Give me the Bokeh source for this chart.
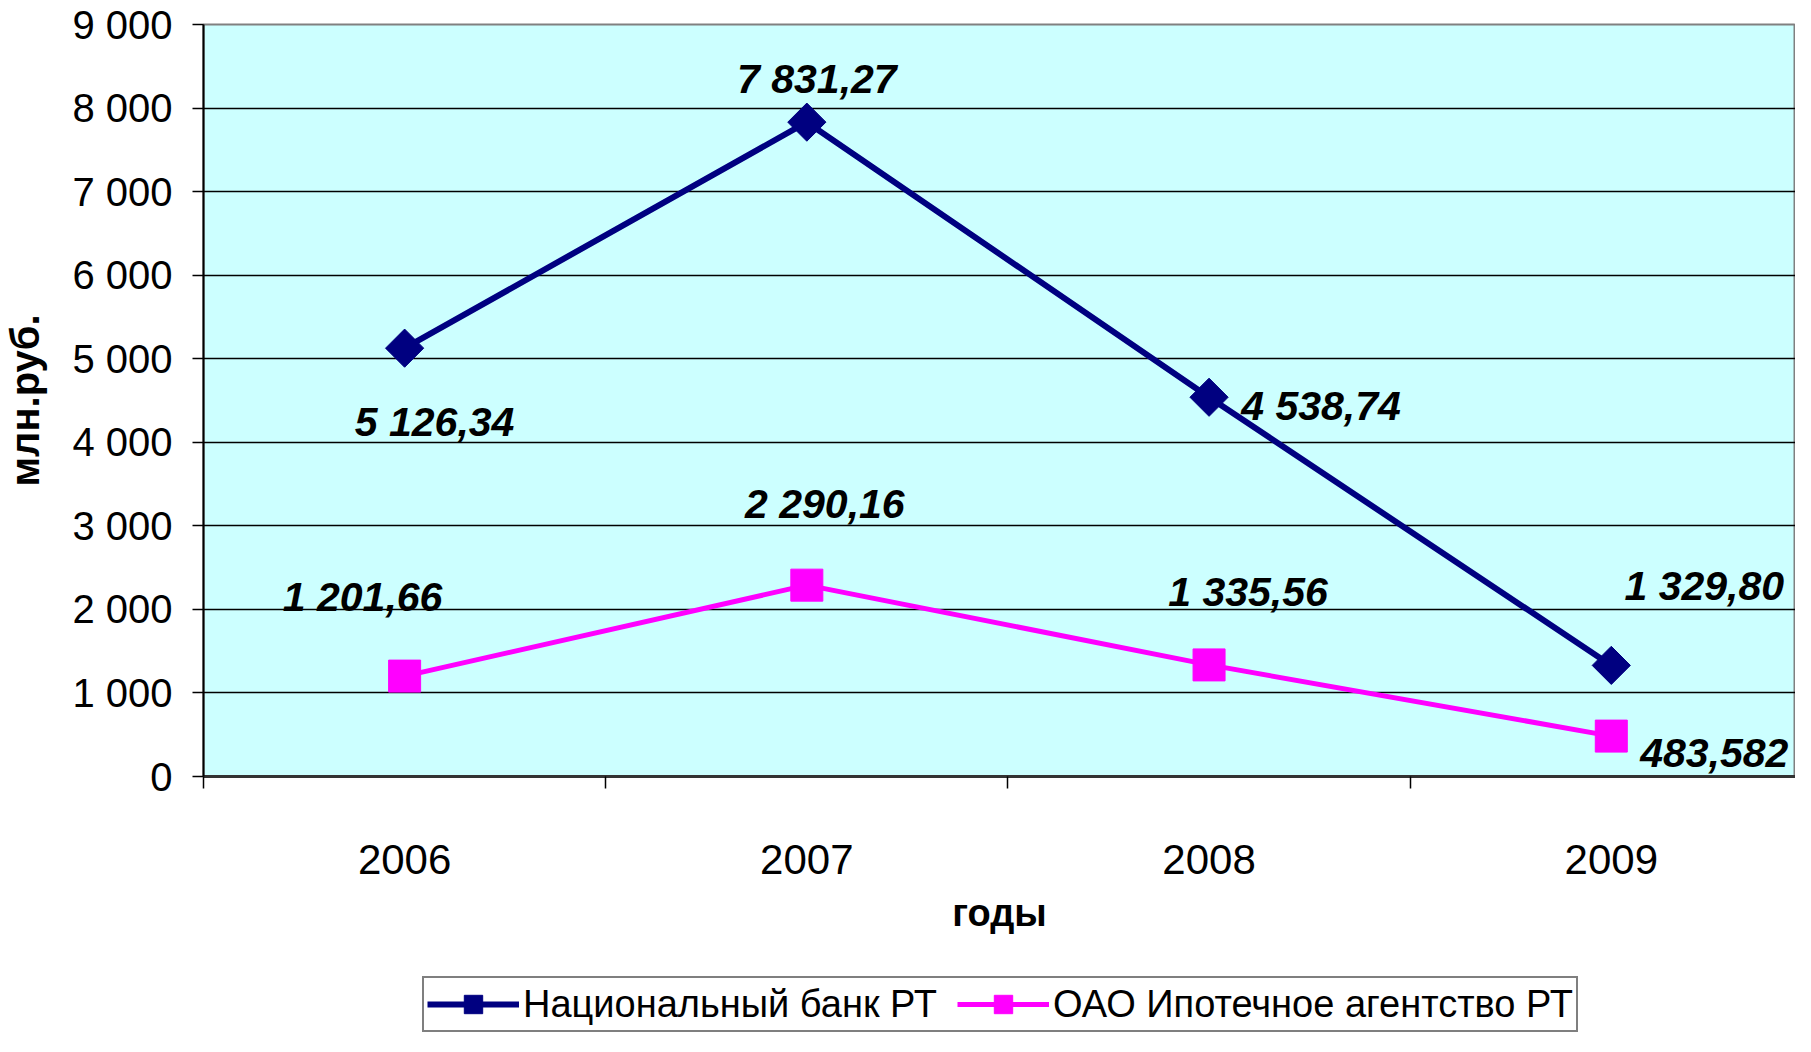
from bokeh.plotting import figure
from bokeh.layouts import column
from bokeh.models import Range1d, FixedTicker, Legend, LegendItem, ColumnDataSource
from bokeh.embed import file_html
from bokeh.resources import INLINE

# ---- data ----
years = ["2006", "2007", "2008", "2009"]
nbrt = [5126.34, 7831.27, 4538.74, 1329.80]
ipot = [1201.66, 2290.16, 1335.56, 483.582]
nbrt_labels = ["5 126,34", "7 831,27", "4 538,74", "1 329,80"]
ipot_labels = ["1 201,66", "2 290,16", "1 335,56", "483,582"]
series_names = ["Национальный банк РТ", "ОАО Ипотечное агентство РТ"]
y_ticks = [0, 1000, 2000, 3000, 4000, 5000, 6000, 7000, 8000, 9000]
y_tick_labels = ["0", "1 000", "2 000", "3 000", "4 000", "5 000", "6 000", "7 000", "8 000", "9 000"]
x_title = "годы"
y_title = "млн.руб."

# ---- label placement (screen px) ----
nbrt_dx = [30, 10, 112, 93]
nbrt_dy = [74, -43, 9, -79]
ipot_dx = [-42, 18, 39, 103]
ipot_dy = [-79, -81, -73, 17]

FONT = "Liberation Sans"
NAVY = "#000080"
MAGENTA = "#FF00FF"

xs = [i + 0.5 for i in range(len(years))]
bounds = [float(i) for i in range(len(years))]

p = figure(width=1795, height=960, output_backend="svg", toolbar_location=None,
           x_range=Range1d(0, 3.958), y_range=Range1d(0, 9000),
           min_border_left=196, min_border_right=0, min_border_top=24, min_border_bottom=184)
p.background_fill_color = "#CCFFFF"
p.border_fill_color = "white"
p.outline_line_color = "#808080"
p.outline_line_width = 2

# axes
xa = p.xaxis[0]
xa.ticker = FixedTicker(ticks=xs, minor_ticks=bounds)
xa.major_label_overrides = {x: y for x, y in zip(xs, years)}
xa.major_tick_out = 0
xa.major_tick_in = 0
xa.minor_tick_out = 12
xa.minor_tick_in = 0
xa.minor_tick_line_color = "#000000"
xa.minor_tick_line_width = 1.5
xa.axis_line_color = "#333333"
xa.axis_line_width = 3
xa.major_label_text_font = FONT
xa.major_label_text_font_size = "42px"
xa.major_label_text_color = "#000000"
xa.major_label_standoff = 56
xa.axis_label = x_title
xa.axis_label_text_font = FONT
xa.axis_label_text_font_style = "bold"
xa.axis_label_text_font_size = "38px"
xa.axis_label_text_color = "#000000"
xa.axis_label_standoff = 15

ya = p.yaxis[0]
ya.ticker = FixedTicker(ticks=y_ticks)
ya.major_label_overrides = {t: s for t, s in zip(y_ticks, y_tick_labels)}
ya.major_tick_out = 11
ya.major_tick_in = 0
ya.major_tick_line_width = 1.5
ya.minor_tick_out = 0
ya.minor_tick_in = 0
ya.axis_line_color = "#000000"
ya.axis_line_width = 2
ya.major_label_text_font = FONT
ya.major_label_text_font_size = "40px"
ya.major_label_text_color = "#000000"
ya.major_label_standoff = 20
ya.axis_label = y_title
ya.axis_label_text_font = FONT
ya.axis_label_text_font_style = "bold"
ya.axis_label_text_font_size = "40px"
ya.axis_label_text_color = "#000000"
ya.axis_label_standoff = 22

p.xgrid.visible = False
p.ygrid.ticker = FixedTicker(ticks=y_ticks)
p.ygrid.grid_line_color = "#000000"
p.ygrid.grid_line_width = 1.3

# series
src = ColumnDataSource(dict(x=xs, nbrt=nbrt, ipot=ipot,
                            nl=nbrt_labels, il=ipot_labels,
                            ndx=nbrt_dx, ndy=nbrt_dy, idx=ipot_dx, idy=ipot_dy))

line_kw1 = dict(line_color=NAVY, line_width=6)
mark_kw1 = dict(marker="square", angle=0.785398, size=27, fill_color=NAVY, line_color=NAVY)
line_kw2 = dict(line_color=MAGENTA, line_width=5)
mark_kw2 = dict(marker="square", size=32, fill_color=MAGENTA, line_color=MAGENTA)

p.line("x", "nbrt", source=src, **line_kw1)
p.scatter("x", "nbrt", source=src, **mark_kw1)
p.line("x", "ipot", source=src, **line_kw2)
p.scatter("x", "ipot", source=src, **mark_kw2)

for col, dx, dy in (("nl", "ndx", "ndy"), ("il", "idx", "idy")):
    yc = "nbrt" if col == "nl" else "ipot"
    p.text(x="x", y=yc, text=col, x_offset=dx, y_offset=dy, source=src,
           text_align="center", text_baseline="middle",
           text_font={"value": FONT}, text_font_style="bold italic",
           text_font_size="41px", text_color="#000000")

# ---- legend strip below the chart ----
q = figure(width=1795, height=76, output_backend="svg", toolbar_location=None,
           x_axis_location=None, y_axis_location=None,
           x_range=Range1d(0, 1), y_range=Range1d(0, 1),
           min_border_left=0, min_border_right=0, min_border_top=0, min_border_bottom=0)
q.outline_line_color = None
q.grid.visible = False
q.background_fill_color = "white"
q.border_fill_color = "white"
# legend-only renderers (kept outside the visible range)
off = ColumnDataSource(dict(x=[-10, -9], y=[-10, -10]))
k1 = q.line("x", "y", source=off, **line_kw1)
k1m = q.scatter("x", "y", source=off, **mark_kw1)
k2 = q.line("x", "y", source=off, **line_kw2)
k2m = q.scatter("x", "y", source=off, **mark_kw2)

legend = Legend(items=[LegendItem(label=series_names[0], renderers=[k1, k1m]),
                       LegendItem(label=series_names[1], renderers=[k2, k2m])],
                orientation="horizontal", location=(219, 4))
legend.label_text_font = FONT
legend.label_text_font_size = "38px"
legend.label_text_color = "#000000"
legend.glyph_width = 92
legend.glyph_height = 46
legend.label_height = 46
legend.label_standoff = 4
legend.spacing = 20
legend.padding = 3
legend.margin = 0
legend.border_line_color = "#000000"
legend.border_line_width = 2
legend.background_fill_color = "white"
legend.background_fill_alpha = 1.0
q.add_layout(legend, "center")

layout = column(p, q, spacing=0)
open("out.html", "w").write(file_html(layout, INLINE))
